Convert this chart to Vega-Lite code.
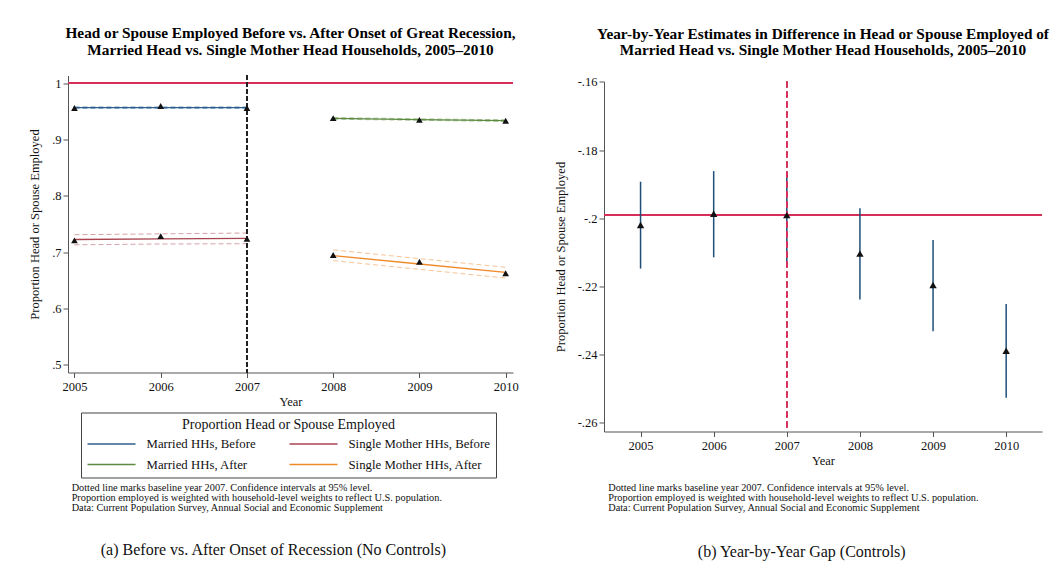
{
  "$schema": "https://vega.github.io/schema/vega-lite/v6.json",
  "background": "white",
  "padding": {"left": 28, "top": 25.5, "right": 5, "bottom": 5},
  "spacing": 35,
  "datasets": {
    "levels": [
      {"year": 2005, "grp": "Married HHs, Before", "est": 0.956, "fit": 0.9566, "lo": 0.9551, "hi": 0.9581},
      {"year": 2006, "grp": "Married HHs, Before", "est": 0.9595, "fit": 0.9566, "lo": 0.9552, "hi": 0.958},
      {"year": 2007, "grp": "Married HHs, Before", "est": 0.956, "fit": 0.9566, "lo": 0.9551, "hi": 0.9581},
      {"year": 2008, "grp": "Married HHs, After", "est": 0.938, "fit": 0.9375, "lo": 0.936, "hi": 0.939},
      {"year": 2009, "grp": "Married HHs, After", "est": 0.935, "fit": 0.9355, "lo": 0.9342, "hi": 0.9368},
      {"year": 2010, "grp": "Married HHs, After", "est": 0.9334, "fit": 0.9335, "lo": 0.932, "hi": 0.935},
      {"year": 2005, "grp": "Single Mother HHs, Before", "est": 0.721, "fit": 0.7225, "lo": 0.713, "hi": 0.731},
      {"year": 2006, "grp": "Single Mother HHs, Before", "est": 0.7286, "fit": 0.7235, "lo": 0.7145, "hi": 0.7325},
      {"year": 2007, "grp": "Single Mother HHs, Before", "est": 0.7238, "fit": 0.7245, "lo": 0.715, "hi": 0.734},
      {"year": 2008, "grp": "Single Mother HHs, After", "est": 0.695, "fit": 0.694, "lo": 0.685, "hi": 0.704},
      {"year": 2009, "grp": "Single Mother HHs, After", "est": 0.683, "fit": 0.679, "lo": 0.6695, "hi": 0.6885},
      {"year": 2010, "grp": "Single Mother HHs, After", "est": 0.6625, "fit": 0.664, "lo": 0.654, "hi": 0.673}
    ],
    "gap": [
      {"year": 2005, "est": -0.202, "lo": -0.2148, "hi": -0.1893},
      {"year": 2006, "est": -0.1987, "lo": -0.2115, "hi": -0.1862},
      {"year": 2007, "est": -0.1991, "lo": -0.2128, "hi": -0.1866},
      {"year": 2008, "est": -0.2104, "lo": -0.2239, "hi": -0.1971},
      {"year": 2009, "est": -0.2196, "lo": -0.2332, "hi": -0.2064},
      {"year": 2010, "est": -0.2389, "lo": -0.2527, "hi": -0.2252}
    ]
  },
  "hconcat": [
    {
      "title": {"text": "(a) Before vs. After Onset of Recession (No Controls)", "orient": "bottom", "anchor": "middle", "fontSize": 16, "fontWeight": "normal", "offset": 28.5, "color": "#111"},
      "vconcat": [
        {
          "title": {
            "text": [
              "Dotted line marks baseline year 2007. Confidence intervals at 95% level.",
              "Proportion employed is weighted with household-level weights to reflect U.S. population.",
              "Data: Current Population Survey, Annual Social and Economic Supplement"
            ],
            "orient": "bottom", "anchor": "start", "fontSize": 10.3, "fontWeight": "normal", "lineHeight": 10.2, "offset": 75.5, "dx": 43, "color": "#111"
          },
          "vconcat": [
            {
              "title": {
                "text": ["Head or Spouse Employed Before vs. After Onset of Great Recession,", "Married Head vs. Single Mother Head Households, 2005–2010"],
                "fontSize": 15.3, "fontWeight": "bold", "lineHeight": 16.5, "offset": 17, "anchor": "middle", "color": "#000"
              },
              "width": 445,
              "height": 297,
              "data": {"name": "levels"},
              "layer": [
                {
                  "mark": {"type": "rule", "color": "#d62f5a", "strokeWidth": 1.5},
                  "encoding": {
                    "y": {"datum": 1, "type": "quantitative", "title": "Proportion Head or Spouse Employed",
                      "scale": {"domain": [0.4863, 1.0137], "nice": false, "zero": false},
                      "axis": {"values": [0.5, 0.6, 0.7, 0.8, 0.9, 1], "labelExpr": "replace(replace(format(datum.value, '.2~f'), '−', '-'), '0.', '.')", "labelPadding": 2, "titlePadding": 10}}
                  }
                },
                {
                  "mark": {"type": "line", "strokeDash": [5, 3], "strokeWidth": 1, "opacity": 0.5},
                  "encoding": {
                    "x": {"field": "year", "type": "quantitative", "title": "Year",
                      "scale": {"domain": [2004.925, 2010.085], "nice": false, "zero": false},
                      "axis": {"values": [2005, 2006, 2007, 2008, 2009, 2010], "format": "d", "grid": false, "labelPadding": 3, "titlePadding": 2}},
                    "y": {"field": "lo", "type": "quantitative", "title": "Proportion Head or Spouse Employed",
                      "scale": {"domain": [0.4863, 1.0137], "nice": false, "zero": false},
                      "axis": {"values": [0.5, 0.6, 0.7, 0.8, 0.9, 1], "labelExpr": "replace(replace(format(datum.value, '.2~f'), '−', '-'), '0.', '.')", "labelPadding": 2, "titlePadding": 10}},
                    "color": {"field": "grp", "type": "nominal", "title": "Proportion Head or Spouse Employed",
                      "scale": {"domain": ["Married HHs, Before", "Married HHs, After", "Single Mother HHs, Before", "Single Mother HHs, After"], "range": ["#2e5f8e", "#5c8a3e", "#a8434f", "#ee8a2a"]}}
                  }
                },
                {
                  "mark": {"type": "line", "strokeDash": [5, 3], "strokeWidth": 1, "opacity": 0.5},
                  "encoding": {
                    "x": {"field": "year", "type": "quantitative", "title": "Year",
                      "scale": {"domain": [2004.925, 2010.085], "nice": false, "zero": false},
                      "axis": {"values": [2005, 2006, 2007, 2008, 2009, 2010], "format": "d", "grid": false, "labelPadding": 3, "titlePadding": 2}},
                    "y": {"field": "hi", "type": "quantitative", "title": "Proportion Head or Spouse Employed",
                      "scale": {"domain": [0.4863, 1.0137], "nice": false, "zero": false},
                      "axis": {"values": [0.5, 0.6, 0.7, 0.8, 0.9, 1], "labelExpr": "replace(replace(format(datum.value, '.2~f'), '−', '-'), '0.', '.')", "labelPadding": 2, "titlePadding": 10}},
                    "color": {"field": "grp", "type": "nominal", "title": "Proportion Head or Spouse Employed",
                      "scale": {"domain": ["Married HHs, Before", "Married HHs, After", "Single Mother HHs, Before", "Single Mother HHs, After"], "range": ["#2e5f8e", "#5c8a3e", "#a8434f", "#ee8a2a"]}}
                  }
                },
                {
                  "mark": {"type": "line", "strokeWidth": 1.3},
                  "encoding": {
                    "x": {"field": "year", "type": "quantitative", "title": "Year",
                      "scale": {"domain": [2004.925, 2010.085], "nice": false, "zero": false},
                      "axis": {"values": [2005, 2006, 2007, 2008, 2009, 2010], "format": "d", "grid": false, "labelPadding": 3, "titlePadding": 2}},
                    "y": {"field": "fit", "type": "quantitative", "title": "Proportion Head or Spouse Employed",
                      "scale": {"domain": [0.4863, 1.0137], "nice": false, "zero": false},
                      "axis": {"values": [0.5, 0.6, 0.7, 0.8, 0.9, 1], "labelExpr": "replace(replace(format(datum.value, '.2~f'), '−', '-'), '0.', '.')", "labelPadding": 2, "titlePadding": 10}},
                    "color": {"field": "grp", "type": "nominal", "title": "Proportion Head or Spouse Employed",
                      "scale": {"domain": ["Married HHs, Before", "Married HHs, After", "Single Mother HHs, Before", "Single Mother HHs, After"], "range": ["#2e5f8e", "#5c8a3e", "#a8434f", "#ee8a2a"]}}
                  }
                },
                {
                  "mark": {"type": "rule", "color": "#222", "strokeDash": [4, 3], "strokeWidth": 1.2},
                  "encoding": {
                    "x": {"datum": 2007, "type": "quantitative", "title": "Year",
                      "scale": {"domain": [2004.925, 2010.085], "nice": false, "zero": false},
                      "axis": {"values": [2005, 2006, 2007, 2008, 2009, 2010], "format": "d", "grid": false, "labelPadding": 3, "titlePadding": 2}}
                  }
                },
                {
                  "mark": {"type": "point", "shape": "triangle-up", "filled": true, "color": "#111", "size": 45, "opacity": 1},
                  "encoding": {
                    "x": {"field": "year", "type": "quantitative", "title": "Year",
                      "scale": {"domain": [2004.925, 2010.085], "nice": false, "zero": false},
                      "axis": {"values": [2005, 2006, 2007, 2008, 2009, 2010], "format": "d", "grid": false, "labelPadding": 3, "titlePadding": 2}},
                    "y": {"field": "est", "type": "quantitative", "title": "Proportion Head or Spouse Employed",
                      "scale": {"domain": [0.4863, 1.0137], "nice": false, "zero": false},
                      "axis": {"values": [0.5, 0.6, 0.7, 0.8, 0.9, 1], "labelExpr": "replace(replace(format(datum.value, '.2~f'), '−', '-'), '0.', '.')", "labelPadding": 2, "titlePadding": 10}}
                  }
                }
              ]
            }
          ]
        }
      ]
    },
    {
      "title": {"text": "(b) Year-by-Year Gap (Controls)", "orient": "bottom", "anchor": "middle", "fontSize": 16, "fontWeight": "normal", "offset": 30.5, "color": "#111"},
      "vconcat": [
        {
          "title": {
            "text": [
              "Dotted line marks baseline year 2007. Confidence intervals at 95% level.",
              "Proportion employed is weighted with household-level weights to reflect U.S. population.",
              "Data: Current Population Survey, Annual Social and Economic Supplement"
            ],
            "orient": "bottom", "anchor": "start", "fontSize": 10.3, "fontWeight": "normal", "lineHeight": 10.2, "offset": 16, "dx": 54, "color": "#111"
          },
          "spacing": -1,
          "vconcat": [
            {
              "title": {
                "text": ["Year-by-Year Estimates in Difference in Head or Spouse Employed of", "Married Head vs. Single Mother Head Households, 2005–2010"],
                "fontSize": 15.3, "fontWeight": "bold", "lineHeight": 16.5, "offset": 17, "anchor": "middle", "color": "#000"
              },
              "width": 438,
              "height": 1,
              "data": {"values": []},
              "mark": {"type": "rule", "opacity": 0},
              "encoding": {}
            },
            {
              "width": 438,
              "height": 350,
              "data": {"name": "gap"},
              "layer": [
                {
                  "mark": {"type": "rule", "color": "#d62f5a", "strokeWidth": 1.5},
                  "encoding": {
                    "y": {"datum": -0.1991, "type": "quantitative", "title": "Proportion Head or Spouse Employed",
                      "scale": {"domain": [-0.2626, -0.1599], "nice": false, "zero": false},
                      "axis": {"values": [-0.26, -0.24, -0.22, -0.2, -0.18, -0.16], "labelExpr": "replace(replace(format(datum.value, '.2~f'), '−', '-'), '0.', '.')", "labelPadding": 2, "titlePadding": 10}}
                  }
                },
                {
                  "mark": {"type": "rule", "color": "#1f4e79", "strokeWidth": 1.5},
                  "encoding": {
                    "x": {"field": "year", "type": "quantitative", "title": "Year",
                      "scale": {"domain": [2004.5, 2010.49], "nice": false, "zero": false},
                      "axis": {"values": [2005, 2006, 2007, 2008, 2009, 2010], "format": "d", "grid": false, "labelPadding": 3, "titlePadding": 2}},
                    "y": {"field": "lo", "type": "quantitative", "title": "Proportion Head or Spouse Employed",
                      "scale": {"domain": [-0.2626, -0.1599], "nice": false, "zero": false},
                      "axis": {"values": [-0.26, -0.24, -0.22, -0.2, -0.18, -0.16], "labelExpr": "replace(replace(format(datum.value, '.2~f'), '−', '-'), '0.', '.')", "labelPadding": 2, "titlePadding": 10}},
                    "y2": {"field": "hi"}
                  }
                },
                {
                  "mark": {"type": "rule", "color": "#d62f5a", "strokeDash": [6, 4], "strokeWidth": 1.3},
                  "encoding": {
                    "x": {"datum": 2007, "type": "quantitative", "title": "Year",
                      "scale": {"domain": [2004.5, 2010.49], "nice": false, "zero": false},
                      "axis": {"values": [2005, 2006, 2007, 2008, 2009, 2010], "format": "d", "grid": false, "labelPadding": 3, "titlePadding": 2}}
                  }
                },
                {
                  "mark": {"type": "point", "shape": "triangle-up", "filled": true, "color": "#111", "size": 55, "opacity": 1},
                  "encoding": {
                    "x": {"field": "year", "type": "quantitative", "title": "Year",
                      "scale": {"domain": [2004.5, 2010.49], "nice": false, "zero": false},
                      "axis": {"values": [2005, 2006, 2007, 2008, 2009, 2010], "format": "d", "grid": false, "labelPadding": 3, "titlePadding": 2}},
                    "y": {"field": "est", "type": "quantitative", "title": "Proportion Head or Spouse Employed",
                      "scale": {"domain": [-0.2626, -0.1599], "nice": false, "zero": false},
                      "axis": {"values": [-0.26, -0.24, -0.22, -0.2, -0.18, -0.16], "labelExpr": "replace(replace(format(datum.value, '.2~f'), '−', '-'), '0.', '.')", "labelPadding": 2, "titlePadding": 10}}
                  }
                }
              ]
            }
          ]
        }
      ]
    }
  ],
  "config": {
    "font": "Liberation Serif",
    "view": {"stroke": null},
    "title": {"font": "Liberation Serif"},
    "axis": {
      "labelFont": "Liberation Serif", "labelFontSize": 12.5, "labelColor": "#111",
      "titleFont": "Liberation Serif", "titleFontSize": 12.5, "titleFontWeight": "normal", "titleColor": "#111",
      "domainColor": "#555", "tickColor": "#555", "tickSize": 5,
      "gridColor": "#e4edf0", "gridWidth": 1
    },
    "legend": {
      "orient": "none", "legendX": 13, "legendY": 337,
      "columns": 2, "titleAnchor": "middle", "titleFontSize": 14, "titleFontWeight": "normal", "titleColor": "#111",
      "labelFont": "Liberation Serif", "titleFont": "Liberation Serif",
      "labelFontSize": 12.8, "labelColor": "#111", "labelLimit": 0, "titleLimit": 0,
      "symbolType": "M-4,0H4", "symbolSize": 144, "symbolStrokeWidth": 1.5, "symbolOpacity": 1, "symbolDash": [], "symbolOffset": 18,
      "labelOffset": 28, "columnPadding": 30, "rowPadding": 6.5, "padding": 5.5, "titlePadding": 5,
      "strokeColor": "#444", "fillColor": "white"
    }
  }
}
